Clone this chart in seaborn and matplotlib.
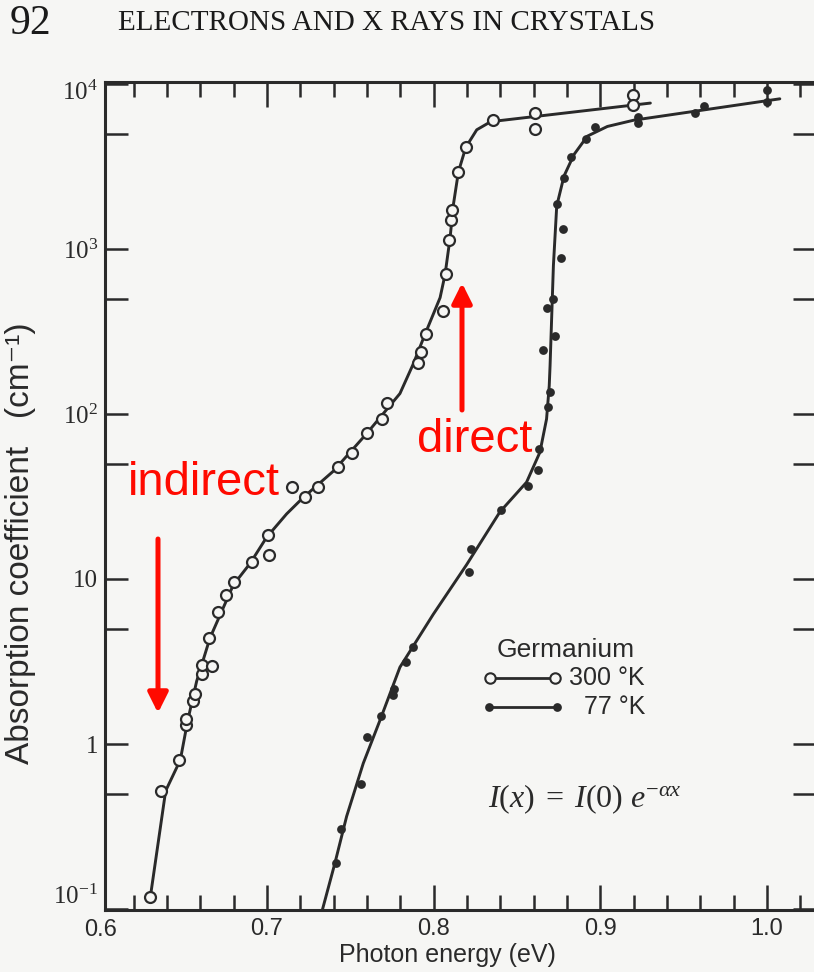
import matplotlib
matplotlib.use("Agg")
import matplotlib.pyplot as plt
import seaborn as sns
import pandas as pd
from matplotlib.lines import Line2D
from matplotlib.ticker import NullFormatter
from matplotlib.transforms import ScaledTranslation

# ---------------- data ----------------
# Germanium, 300 K (open circles)
energy_300K = [0.6301, 0.6363, 0.6473, 0.6513, 0.6517, 0.6557, 0.6567, 0.6611, 0.6611, 0.6671,
               0.6653, 0.6707, 0.6753, 0.6803, 0.6908, 0.7012, 0.7008, 0.7152, 0.7228, 0.7308,
               0.7428, 0.7509, 0.7599, 0.7689, 0.7719, 0.7908, 0.7923, 0.7955, 0.8059, 0.8073,
               0.8095, 0.8103, 0.8109, 0.8149, 0.8193, 0.8355, 0.8609, 0.8609, 0.9199, 0.9199]
alpha_300K = [0.119, 0.516, 0.804, 1.30, 1.41, 1.82, 2.01, 2.66, 3.00, 2.99,
              4.39, 6.27, 8.01, 9.53, 12.6, 13.9, 18.6, 35.9, 31.5, 36.1,
              47.7, 57.9, 77.1, 93.8, 117, 205, 239, 305, 421, 702,
              1130, 1489, 1711, 2934, 4128, 6025, 6648, 5343, 8551, 7443]

# Germanium, 77 K (filled dots)
energy_77K = [0.7414, 0.7444, 0.7564, 0.7598, 0.7686, 0.7754, 0.7760, 0.7834, 0.7878, 0.8213,
              0.8225, 0.8403, 0.8565, 0.8625, 0.8635, 0.8685, 0.8699, 0.8659, 0.8727, 0.8679,
              0.8719, 0.8767, 0.8779, 0.8739, 0.8783, 0.8827, 0.8917, 0.8967, 0.9225, 0.9225,
              0.9569, 0.9625, 0.9998, 0.9998]
alpha_77K = [0.190, 0.306, 0.573, 1.11, 1.47, 1.97, 2.15, 3.16, 3.86, 11.0,
             15.2, 26.1, 36.5, 45.8, 61.4, 110, 135, 245, 298, 439,
             497, 887, 1316, 1870, 2711, 3625, 4610, 5467, 5834, 6320,
             6712, 7346, 9159, 7794]

# drawn curves through the data
curve_energy_300K = [0.6301, 0.6392, 0.6480, 0.6524, 0.6578, 0.6658, 0.6798, 0.6898, 0.6998, 0.7118,
                     0.7218, 0.7398, 0.7598, 0.7798, 0.7878, 0.7949, 0.8039, 0.8069, 0.8099, 0.8119,
                     0.8149, 0.8193, 0.8259, 0.8343, 0.9301]
curve_alpha_300K = [0.12, 0.52, 0.80, 1.38, 2.40, 4.39, 9.2, 12.4, 17.9, 24.8,
                    31.2, 45, 76, 133, 201, 305, 507, 702, 1169, 1862,
                    2934, 4128, 5277, 5911, 7660]
curve_energy_77K = [0.7328, 0.7408, 0.7478, 0.7578, 0.7678, 0.7798, 0.7998, 0.8198, 0.8398, 0.8558,
                    0.8638, 0.8678, 0.8694, 0.8699, 0.8719, 0.8739, 0.8783, 0.8843, 0.8923, 0.9043,
                    0.9203, 1.0078]
curve_alpha_77K = [0.095, 0.19, 0.364, 0.764, 1.39, 2.92, 6.11, 12.2, 25.5, 38.6,
                   58.6, 93.3, 148, 196, 791, 1824, 2773, 3741, 4830, 5528,
                   6039, 8130]

x_tick_values = [0.7, 0.8, 0.9, 1.0]
x_tick_labels = ["0.7", "0.8", "0.9", "1.0"]
x_minor_ticks = [0.62, 0.64, 0.66, 0.68, 0.72, 0.74, 0.76, 0.78, 0.82, 0.84, 0.86, 0.88,
                 0.92, 0.94, 0.96, 0.98, 1.02]
y_tick_values = [0.1, 1, 10, 100, 1000, 10000]
y_tick_labels = [r"$\mathregular{10^{-1}}$", "1", "10",
                 r"$\mathregular{10^{2}}$", r"$\mathregular{10^{3}}$", r"$\mathregular{10^{4}}$"]
y_minor_ticks = [0.5, 5, 50, 500, 5000]

legend_title = "Germanium"
legend_labels = ["300 °K", "77 °K"]

# ---------------- style ----------------
sns.set_theme(style="ticks")
plt.rcParams.update({
    "font.family": ["Liberation Sans", "DejaVu Sans"],
    "mathtext.fontset": "custom",
    "mathtext.rm": "Liberation Serif",
    "mathtext.it": "Liberation Serif:italic",
    "mathtext.bf": "Liberation Serif:bold",
})

INK = "#2a2a2a"
PAPER = "#f6f6f4"
RED = "#ff0a00"
W, H = 814, 972

fig = plt.figure(figsize=(W / 100, H / 100), dpi=100, facecolor=PAPER)
ax = fig.add_axes([105 / W, (H - 910) / H, 711 / W, 828 / H])
ax.set_facecolor(PAPER)
ax.set_yscale("log")

df300 = pd.DataFrame({"E": energy_300K, "alpha": alpha_300K})
df77 = pd.DataFrame({"E": energy_77K, "alpha": alpha_77K})
c300 = pd.DataFrame({"E": curve_energy_300K, "alpha": curve_alpha_300K})
c77 = pd.DataFrame({"E": curve_energy_77K, "alpha": curve_alpha_77K})

sns.lineplot(data=c300, x="E", y="alpha", ax=ax, color=INK, lw=2.1, estimator=None, sort=False)
sns.lineplot(data=c77, x="E", y="alpha", ax=ax, color=INK, lw=2.1, estimator=None, sort=False)
sns.scatterplot(data=df300, x="E", y="alpha", ax=ax, marker="o", s=62,
                facecolor=PAPER, edgecolor=INK, linewidth=1.6, zorder=3)
sns.scatterplot(data=df77, x="E", y="alpha", ax=ax, marker="o", s=40,
                color=INK, edgecolor=INK, linewidth=0, zorder=3)

ax.set_xlim(0.6028, 1.0295)
ax.set_ylim(10 ** -1.006, 10 ** 4.012)

ax.set_xticks(x_tick_values, labels=x_tick_labels)
ax.set_xticks(x_minor_ticks, minor=True)
ax.set_yticks(y_tick_values, labels=y_tick_labels)
ax.set_yticks(y_minor_ticks, minor=True)
ax.xaxis.set_minor_formatter(NullFormatter())
ax.yaxis.set_minor_formatter(NullFormatter())

ax.tick_params(which="both", direction="in", top=True, right=True, color=INK, width=1.8)
ax.tick_params(axis="x", which="major", length=18, pad=6, labelsize=17, labelcolor=INK)
ax.tick_params(axis="x", which="minor", length=11)
ax.tick_params(axis="y", which="both", length=16.5, pad=5, labelsize=18, labelcolor=INK)
for lab in ax.get_yticklabels():
    lab.set_fontfamily("Liberation Serif")
ylabs = ax.get_yticklabels()
ylabs[0].set_transform(ylabs[0].get_transform() + ScaledTranslation(0, 0.15, fig.dpi_scale_trans))
ylabs[-1].set_transform(ylabs[-1].get_transform() + ScaledTranslation(0, -0.06, fig.dpi_scale_trans))

for s in ax.spines.values():
    s.set_linewidth(2.2)
    s.set_color(INK)

# "0.6" sits at the very left edge of the scale
ax.text(0.6, -0.011, "0.6", transform=ax.get_xaxis_transform(), ha="center", va="top",
        fontsize=17, color=INK, clip_on=False)

ax.set_xlabel("Photon energy (eV)", fontsize=18, color=INK)
ax.xaxis.set_label_coords((447 - 105) / 711, (910 - 943) / 828)
ax.set_ylabel("")
fig.text(21 / W, 1 - 543 / H, "Absorption coefficient   (cm⁻¹)", rotation=90,
         ha="center", va="center", fontsize=24, color=INK)

# legend drawn like the original
fig.text(566 / W, 1 - 657 / H, legend_title, ha="center", va="baseline", fontsize=19, color=INK)
fig.add_artist(Line2D([490 / W, 555 / W], [1 - 678 / H, 1 - 678 / H], transform=fig.transFigure,
                      color=INK, lw=2.0, marker="o", markersize=7.5, mfc=PAPER, mec=INK, mew=1.5))
fig.add_artist(Line2D([489 / W, 557 / W], [1 - 707 / H, 1 - 707 / H], transform=fig.transFigure,
                      color=INK, lw=2.0, marker="o", markersize=6.3, mfc=INK, mec=INK, mew=0))
fig.text(645 / W, 1 - 678 / H, legend_labels[0], ha="right", va="center", fontsize=18, color=INK)
fig.text(645 / W, 1 - 707 / H, legend_labels[1], ha="right", va="center", fontsize=18, color=INK)

fig.text(488 / W, 1 - 807 / H, r"$I(x)\;=\;I(0)\ e^{-\alpha x}$", ha="left", va="baseline",
         fontsize=23, color=INK)

# page header
fig.text(10 / W, 1 - 34 / H, "92", family="Liberation Serif", fontsize=30, color="#1a1a1a",
         va="baseline", ha="left")
fig.text(118 / W, 1 - 30 / H, "ELECTRONS AND X RAYS IN CRYSTALS", family="Liberation Serif",
         fontsize=21, color="#1a1a1a", va="baseline", ha="left")

# red annotations
fig.text(128 / W, 1 - 495 / H, "indirect", ha="left", va="baseline", fontsize=34, color=RED)
fig.text(417 / W, 1 - 452 / H, "direct", ha="left", va="baseline", fontsize=34, color=RED)
arrow = dict(arrowstyle="-|>,head_length=1.2,head_width=0.6", lw=3.6, color=RED,
             mutation_scale=10, shrinkA=0, shrinkB=0)
ax.annotate("", xy=(158, H - 713), xytext=(158, H - 539), xycoords="figure pixels",
            textcoords="figure pixels", arrowprops=arrow, annotation_clip=False)
ax.annotate("", xy=(462, H - 283), xytext=(462, H - 410), xycoords="figure pixels",
            textcoords="figure pixels", arrowprops=arrow, annotation_clip=False)

fig.savefig("out.png", dpi=100, facecolor=PAPER)
